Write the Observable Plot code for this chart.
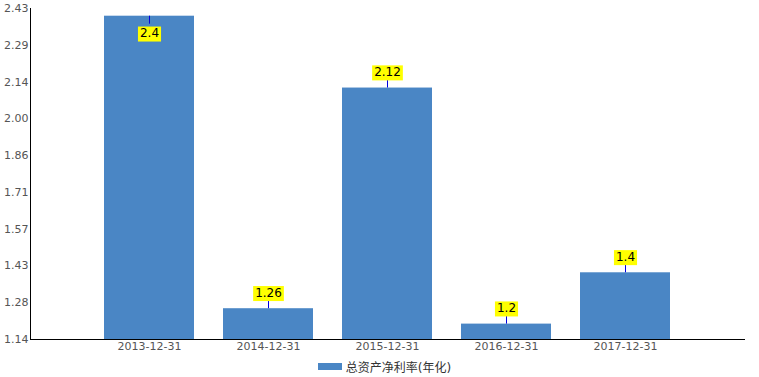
<!DOCTYPE html>
<html><head><meta charset="utf-8">
<script src="https://cdn.jsdelivr.net/npm/d3@7"></script>
<script src="https://cdn.jsdelivr.net/npm/@observablehq/plot@0.6"></script>
<style>
body{margin:0;background:#fff;font-family:"DejaVu Sans","Noto Sans CJK SC",sans-serif;}
#wrap{position:relative;width:759px;height:377px;overflow:hidden;}
#legend{position:absolute;left:5px;top:357px;width:759px;height:18px;display:flex;justify-content:center;align-items:center;font-size:12px;color:#333;}
.sw{width:24px;height:7px;background:#4a86c5;margin-right:4px;}
</style></head><body><div id="wrap"></div>
<script>
const categories = ["2013-12-31","2014-12-31","2015-12-31","2016-12-31","2017-12-31"];
const values = [2.4, 1.26, 2.12, 1.2, 1.4];
const labels = ["2.4","1.26","2.12","1.2","1.4"];
const yTickLabels = ["1.14","1.28","1.43","1.57","1.71","1.86","2.00","2.14","2.29","2.43"];
const seriesName = "总资产净利率(年化)";
const yMin = 1.14, yMax = 2.43;

const barColor = "#4a86c5";
const step = (yMax - yMin) / (yTickLabels.length - 1);
const yTicks = yTickLabels.map((_, i) => yMin + i * step);
const yScale = Plot.scale({y: {domain: [yMin, yMax], range: [339, 8]}});
const data = categories.map((c, i) => ({date: c, value: values[i], label: labels[i], inside: yScale.apply(values[i]) - 32 < 8}));
const outside = data.filter(d => !d.inside);
const inside = data.filter(d => d.inside);

const chart = Plot.plot({
  width: 759,
  height: 355,
  marginLeft: 30,
  marginRight: 14,
  marginTop: 8,
  marginBottom: 16,
  style: {fontFamily: "DejaVu Sans, Noto Sans CJK SC, sans-serif", background: "#fff"},
  x: {type: "band", domain: categories, range: [89.5, 684.5], paddingInner: 0.244, paddingOuter: 0.122, label: null},
  y: {domain: [yMin, yMax], label: null},
  marks: [
    Plot.barY(data, {x: "date", y1: yMin, y2: "value", fill: barColor}),
    Plot.ruleX(outside, {x: "date", y1: "value", y2: "value", insetBottom: 8, stroke: "#0000dd"}),
    Plot.ruleX(inside, {x: "date", y1: "value", y2: "value", insetBottom: -8, stroke: "#0000dd"}),
    Plot.text(outside, {x: "date", y: "value", text: "label", dy: -16, fontSize: 12, fill: "#000"}),
    Plot.text(inside, {x: "date", y: "value", text: "label", dy: 17, fontSize: 12, fill: "#000"}),
    Plot.axisY({ticks: yTicks, tickFormat: d => yTickLabels[Math.round((d - yMin) / step)], tickSize: 0, tickPadding: 2, fontSize: 11, color: "#555", label: null}),
    Plot.axisX({tickSize: 0, tickPadding: 3, fontSize: 11, color: "#555", label: null}),
    Plot.ruleY([yMin], {stroke: "#000"}),
    Plot.frame({anchor: "left", stroke: "#000"})
  ]
});
const wrap = document.getElementById("wrap");
wrap.appendChild(chart);

d3.select(chart).selectAll("text").filter(function() {
  const g = this.closest("g[aria-label]");
  const al = g ? g.getAttribute("aria-label") : "";
  return labels.includes(this.textContent) && !/axis/.test(al);
}).each(function() {
  const b = this.getBBox();
  const r = document.createElementNS("http://www.w3.org/2000/svg", "rect");
  const tr = this.getAttribute("transform");
  if (tr) r.setAttribute("transform", tr);
  r.setAttribute("x", b.x - 2);
  r.setAttribute("y", b.y + 0.5);
  r.setAttribute("width", b.width + 4);
  r.setAttribute("height", b.height + 1);
  r.setAttribute("fill", "#ffff00");
  this.parentNode.insertBefore(r, this);
});

const legend = document.createElement("div");
legend.id = "legend";
legend.innerHTML = `<span class="sw"></span><span>${seriesName}</span>`;
wrap.appendChild(legend);
</script>
</body></html>
